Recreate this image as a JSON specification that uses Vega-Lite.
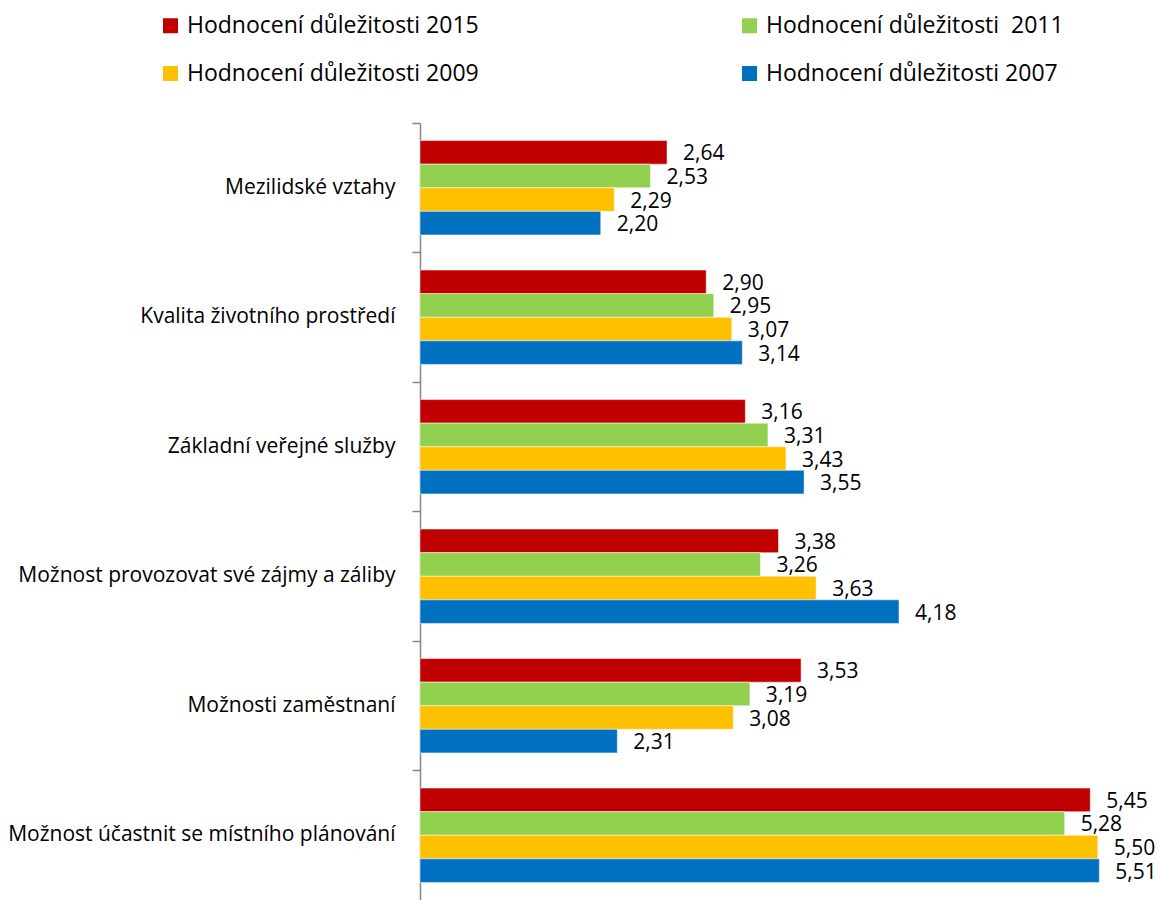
{
  "$schema": "https://vega.github.io/schema/vega-lite/v6.json",
  "width": 723,
  "height": 777,
  "autosize": {"type": "none"},
  "padding": {"left": 420, "top": 123, "right": 17, "bottom": 0},
  "background": "white",
  "config": {
    "font": "Open Sans",
    "view": {"stroke": null},
    "locale": {"number": {"decimal": ",", "thousands": " ", "grouping": [3], "currency": ["", " Kč"]}}
  },
  "data": {
    "values": [
      {"kategorie": "Mezilidské vztahy", "rok": "Hodnocení důležitosti 2015", "hodnota": 2.64},
      {"kategorie": "Mezilidské vztahy", "rok": "Hodnocení důležitosti  2011", "hodnota": 2.53},
      {"kategorie": "Mezilidské vztahy", "rok": "Hodnocení důležitosti 2009", "hodnota": 2.29},
      {"kategorie": "Mezilidské vztahy", "rok": "Hodnocení důležitosti 2007", "hodnota": 2.20},
      {"kategorie": "Kvalita životního prostředí", "rok": "Hodnocení důležitosti 2015", "hodnota": 2.90},
      {"kategorie": "Kvalita životního prostředí", "rok": "Hodnocení důležitosti  2011", "hodnota": 2.95},
      {"kategorie": "Kvalita životního prostředí", "rok": "Hodnocení důležitosti 2009", "hodnota": 3.07},
      {"kategorie": "Kvalita životního prostředí", "rok": "Hodnocení důležitosti 2007", "hodnota": 3.14},
      {"kategorie": "Základní veřejné služby", "rok": "Hodnocení důležitosti 2015", "hodnota": 3.16},
      {"kategorie": "Základní veřejné služby", "rok": "Hodnocení důležitosti  2011", "hodnota": 3.31},
      {"kategorie": "Základní veřejné služby", "rok": "Hodnocení důležitosti 2009", "hodnota": 3.43},
      {"kategorie": "Základní veřejné služby", "rok": "Hodnocení důležitosti 2007", "hodnota": 3.55},
      {"kategorie": "Možnost provozovat své zájmy a záliby", "rok": "Hodnocení důležitosti 2015", "hodnota": 3.38},
      {"kategorie": "Možnost provozovat své zájmy a záliby", "rok": "Hodnocení důležitosti  2011", "hodnota": 3.26},
      {"kategorie": "Možnost provozovat své zájmy a záliby", "rok": "Hodnocení důležitosti 2009", "hodnota": 3.63},
      {"kategorie": "Možnost provozovat své zájmy a záliby", "rok": "Hodnocení důležitosti 2007", "hodnota": 4.18},
      {"kategorie": "Možnosti zaměstnaní", "rok": "Hodnocení důležitosti 2015", "hodnota": 3.53},
      {"kategorie": "Možnosti zaměstnaní", "rok": "Hodnocení důležitosti  2011", "hodnota": 3.19},
      {"kategorie": "Možnosti zaměstnaní", "rok": "Hodnocení důležitosti 2009", "hodnota": 3.08},
      {"kategorie": "Možnosti zaměstnaní", "rok": "Hodnocení důležitosti 2007", "hodnota": 2.31},
      {"kategorie": "Možnost účastnit se místního plánování", "rok": "Hodnocení důležitosti 2015", "hodnota": 5.45},
      {"kategorie": "Možnost účastnit se místního plánování", "rok": "Hodnocení důležitosti  2011", "hodnota": 5.28},
      {"kategorie": "Možnost účastnit se místního plánování", "rok": "Hodnocení důležitosti 2009", "hodnota": 5.50},
      {"kategorie": "Možnost účastnit se místního plánování", "rok": "Hodnocení důležitosti 2007", "hodnota": 5.51}
    ]
  },
  "encoding": {
    "y": {
      "field": "kategorie",
      "type": "nominal",
      "sort": null,
      "scale": {"paddingInner": 0, "paddingOuter": 0},
      "axis": {
        "title": null,
        "bandPosition": 0,
        "grid": false,
        "domainColor": "#868686",
        "domainWidth": 1.5,
        "tickColor": "#868686",
        "tickWidth": 1.5,
        "tickSize": 8,
        "labelPadding": 17,
        "labelFontSize": 21,
        "labelColor": "#000000",
        "labelLimit": 500
      }
    },
    "yOffset": {
      "field": "rok",
      "type": "nominal",
      "sort": ["Hodnocení důležitosti 2015", "Hodnocení důležitosti  2011", "Hodnocení důležitosti 2009", "Hodnocení důležitosti 2007"],
      "scale": {"paddingInner": 0, "paddingOuter": 0.745}
    },
    "x": {
      "field": "hodnota",
      "type": "quantitative",
      "scale": {"domain": [1, 5.8], "nice": false, "zero": false},
      "axis": null
    }
  },
  "layer": [
    {
      "mark": {"type": "bar", "stroke": "white", "strokeWidth": 0.5},
      "encoding": {
        "x2": {"datum": 1},
        "color": {
          "field": "rok",
          "type": "nominal",
          "sort": ["Hodnocení důležitosti 2015", "Hodnocení důležitosti  2011", "Hodnocení důležitosti 2009", "Hodnocení důležitosti 2007"],
          "scale": {
            "domain": ["Hodnocení důležitosti 2015", "Hodnocení důležitosti  2011", "Hodnocení důležitosti 2009", "Hodnocení důležitosti 2007"],
            "range": ["#C00000", "#92D050", "#FFC000", "#0070C0"]
          },
          "legend": {
            "title": null,
            "orient": "none",
            "legendX": -261,
            "legendY": -109,
            "direction": "horizontal",
            "columns": 2,
            "columnPadding": 259,
            "rowPadding": 24,
            "padding": 0,
            "symbolType": "square",
            "symbolSize": 225,
            "symbolStrokeWidth": 0,
            "labelOffset": 5,
            "labelFontSize": 23,
            "labelColor": "#000000",
            "labelLimit": 500,
            "labelExpr": "replace(datum.label, '  ', ' \u00a0')"
          }
        }
      }
    },
    {
      "mark": {"type": "text", "align": "left", "baseline": "middle", "dx": 16, "dy": 2, "fontSize": 21, "color": "#000000"},
      "encoding": {
        "text": {"field": "hodnota", "type": "quantitative", "format": ".2f"}
      }
    }
  ]
}
